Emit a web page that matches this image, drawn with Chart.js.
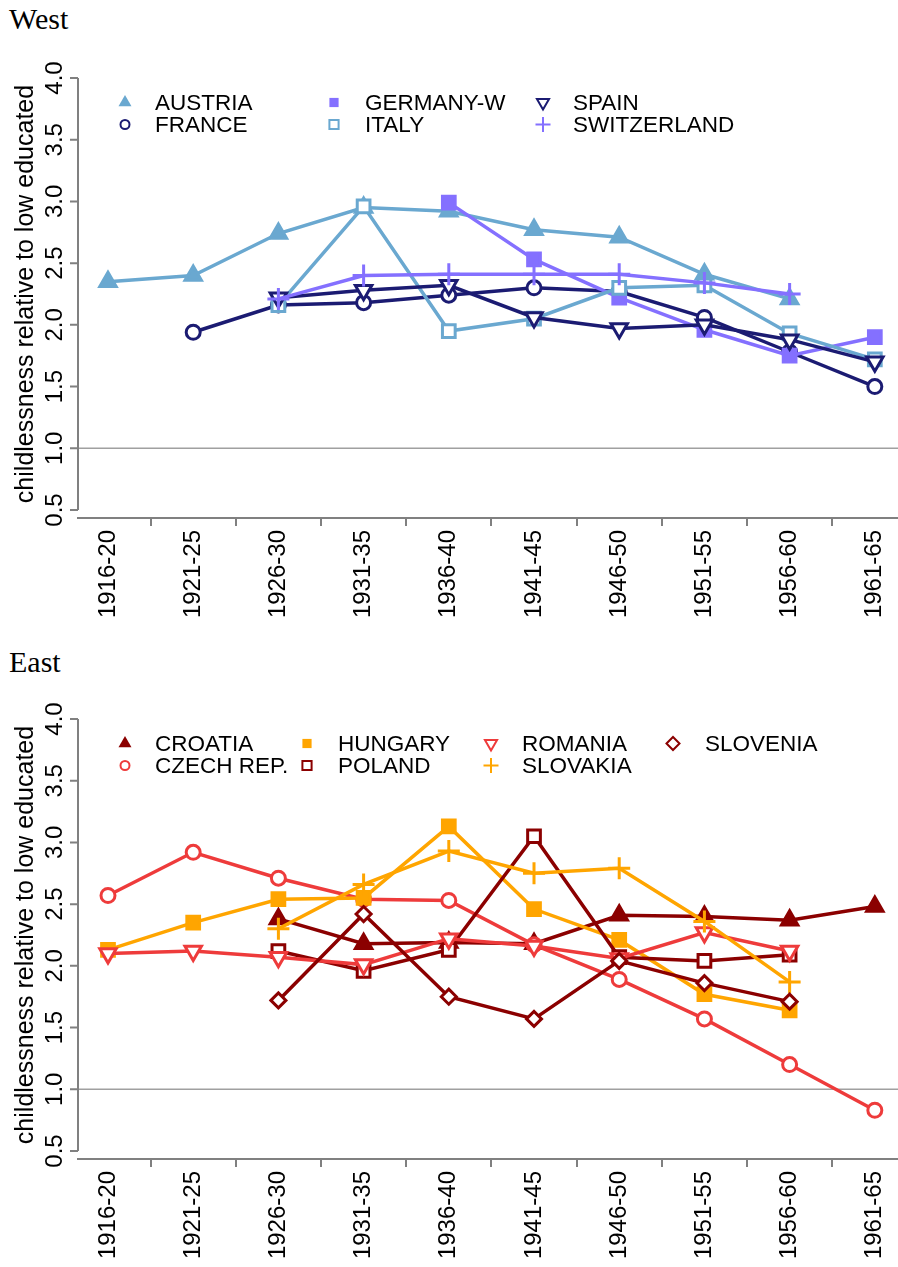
<!DOCTYPE html>
<html>
<head>
<meta charset="utf-8">
<script src="https://cdn.jsdelivr.net/npm/chart.js@4/dist/chart.umd.min.js"></script>
<style>
  body { margin: 0; background: #fff; }
  #page { position: relative; width: 898px; height: 1267px; overflow: hidden; }
  .ttl { position: absolute; font: 30px/30px "Liberation Serif", "Times New Roman", serif; color: #000; }
  canvas { position: absolute; left: 0; }
</style>
</head>
<body>
<div id="page">
  <div class="ttl" style="left:9px;top:4px">West</div>
  <canvas id="west" width="898" height="626" style="top:0"></canvas>
  <div class="ttl" style="left:9px;top:647px">East</div>
  <canvas id="east" width="898" height="626" style="top:641px"></canvas>
</div>
<script>
// birth cohorts on the x axis
var cohorts = ['1916-20', '1921-25', '1926-30', '1931-35', '1936-40', '1941-45', '1946-50', '1951-55', '1956-60', '1961-65'];
var yTicks = [0.5, 1.0, 1.5, 2.0, 2.5, 3.0, 3.5, 4.0];
var yTitle = 'childlessness relative to low educated';

// West
var austria     = [2.35, 2.40, 2.74, 2.95, 2.92, 2.77, 2.71, 2.41, 2.21, null];
var france      = [null, 1.94, 2.16, 2.18, 2.24, 2.30, 2.27, 2.06, 1.78, 1.50];
var germanyW    = [null, null, null, null, 2.99, 2.53, 2.22, 1.96, 1.75, 1.90];
var italy       = [null, null, 2.16, 2.96, 1.95, 2.05, 2.30, 2.32, 1.93, 1.72];
var spain       = [null, null, 2.22, 2.28, 2.32, 2.06, 1.97, 2.00, 1.88, 1.70];
var switzerland = [null, null, 2.21, 2.40, 2.41, 2.41, 2.41, 2.34, 2.25, null];

// East
var croatia  = [null, null, 2.38, 2.18, 2.19, 2.18, 2.41, 2.40, 2.37, 2.48];
var czech    = [2.57, 2.92, 2.71, 2.54, 2.53, 2.17, 1.89, 1.57, 1.20, 0.83];
var hungary  = [2.13, 2.35, 2.54, 2.55, 3.13, 2.46, 2.21, 1.77, 1.64, null];
var poland   = [null, null, 2.12, 1.96, 2.13, 3.05, 2.07, 2.04, 2.09, null];
var romania  = [2.10, 2.12, 2.07, 2.01, 2.22, 2.16, 2.06, 2.27, 2.12, null];
var slovakia = [null, null, 2.30, 2.66, 2.93, 2.75, 2.79, 2.36, 1.87, null];
var slovenia = [null, null, 1.72, 2.42, 1.75, 1.57, 2.04, 1.86, 1.71, null];

var SANS = '"Liberation Sans", Arial, sans-serif';
Chart.defaults.font.family = SANS;
Chart.defaults.color = '#000';

// marker looks: [pointStyle, rotation, radius, filled, legendRadius]
var markers = {
  triUp:   ['triangle', 0, 9.5, true, 7.5],
  triDown: ['triangle', 180, 9.5, false, 7],
  circle:  ['circle', 0, 7, false, 4.5],
  square:  ['rect', 0, 9, false, 6.5],
  squareF: ['rect', 0, 9, true, 6.5],
  plus:    ['cross', 0, 11, false, 7.5],
  diamond: ['rectRot', 0, 7.5, false, 6.5]
};

function series(label, vals, color, mk, n, i) {
  var m = markers[mk];
  return {
    label: label,
    data: vals.map(function(v, k) { return { x: k, y: v }; }),
    borderColor: color,
    backgroundColor: color,
    borderWidth: 3.5,
    tension: 0,
    pointStyle: m[0],
    pointRotation: m[1],
    pointRadius: m[2],
    pointHoverRadius: m[2],
    pointBorderWidth: 3,
    pointBorderColor: color,
    pointBackgroundColor: m[3] ? color : '#fff',
    legendRadius: m[4],
    filled: m[3],
    order: n - i
  };
}

var framePlugin = {
  id: 'frame',
  beforeDatasetsDraw: function(chart) {
    var ctx = chart.ctx, a = chart.chartArea, y = chart.scales.y;
    ctx.save();
    // reference line at 1
    var y1 = y.getPixelForValue(1);
    ctx.strokeStyle = '#a0a0a0';
    ctx.lineWidth = 1.5;
    ctx.beginPath(); ctx.moveTo(a.left, y1); ctx.lineTo(a.right, y1); ctx.stroke();
    // y axis line and ticks
    var top = y.getPixelForValue(yTicks[yTicks.length - 1]);
    var bot = y.getPixelForValue(yTicks[0]);
    ctx.strokeStyle = '#808080';
    ctx.lineWidth = 2;
    ctx.beginPath();
    ctx.moveTo(a.left, top); ctx.lineTo(a.left, bot);
    yTicks.forEach(function(v) {
      var p = y.getPixelForValue(v);
      ctx.moveTo(a.left - 8, p); ctx.lineTo(a.left, p);
    });
    ctx.stroke();
    // tick labels, parallel to the axis
    ctx.fillStyle = '#000';
    ctx.textAlign = 'center';
    ctx.textBaseline = 'alphabetic';
    ctx.font = '24px ' + SANS;
    yTicks.forEach(function(v) {
      var p = y.getPixelForValue(v);
      ctx.save(); ctx.translate(a.left - 16, p); ctx.rotate(-Math.PI / 2);
      ctx.fillText(v.toFixed(1), 0, 0);
      ctx.restore();
    });
    ctx.font = '25px ' + SANS;
    ctx.save(); ctx.translate(33, (top + bot) / 2); ctx.rotate(-Math.PI / 2);
    ctx.fillText(yTitle, 0, 0);
    ctx.restore();
    ctx.restore();
  },
  afterDatasetsDraw: function(chart, args, opts) {
    var ctx = chart.ctx;
    ctx.save();
    ctx.font = '22.5px ' + SANS;
    ctx.textAlign = 'left';
    ctx.textBaseline = 'alphabetic';
    chart.data.datasets.forEach(function(ds, i) {
      var col = opts.cols[Math.floor(i / 2)], row = i % 2;
      var cy = opts.rows[row];
      ctx.fillStyle = ds.filled ? ds.borderColor : 'rgba(0,0,0,0)';
      ctx.strokeStyle = ds.borderColor;
      ctx.lineWidth = 2;
      Chart.helpers.drawPoint(ctx, {
        pointStyle: ds.pointStyle, rotation: ds.pointRotation,
        radius: ds.legendRadius, borderWidth: ds.filled ? 0 : 2
      }, col[0], cy);
      ctx.fillStyle = '#000';
      ctx.fillText(ds.label, col[1], cy + 7.5);
    });
    ctx.restore();
  }
};

function makeChart(id, datasets, cols) {
  new Chart(document.getElementById(id), {
    type: 'line',
    data: { datasets: datasets },
    plugins: [framePlugin],
    options: {
      responsive: false,
      animation: false,
      events: [],
      layout: { autoPadding: false, padding: { left: 78, right: 0, top: 78, bottom: 0 } },
      plugins: {
        legend: { display: false },
        tooltip: { enabled: false },
        frame: { cols: cols, rows: [102.5, 124.5] }
      },
      scales: {
        x: {
          type: 'linear',
          min: -0.352,
          max: 9.272,
          afterBuildTicks: function(s) {
            var t = [];
            for (var k = 0; k < cohorts.length; k++) {
              t.push({ value: k });
              if (k < cohorts.length - 1) t.push({ value: k + 0.5 });
            }
            s.ticks = t;
          },
          afterFit: function(s) {
            s.height = 108;
            s.paddingLeft = 0;
            s.paddingRight = 0;
          },
          ticks: {
            autoSkip: false,
            minRotation: 90,
            maxRotation: 90,
            padding: 4,
            font: { size: 24 },
            color: '#000',
            callback: function(v) { return Number.isInteger(v) ? cohorts[v] : ''; }
          },
          grid: {
            drawOnChartArea: false,
            drawTicks: true,
            tickLength: 8,
            lineWidth: 2,
            tickColor: function(c) {
              return (c.tick && Number.isInteger(c.tick.value)) ? 'rgba(0,0,0,0)' : '#808080';
            }
          },
          border: { display: true, color: '#808080', width: 2 }
        },
        y: {
          display: false,
          min: 0.435,
          max: 4.0
        }
      }
    }
  });
}

var west = [
  ['AUSTRIA', austria, '#6AA8D0', 'triUp'],
  ['FRANCE', france, '#1B1B72', 'circle'],
  ['GERMANY-W', germanyW, '#8470FF', 'squareF'],
  ['ITALY', italy, '#6AA8D0', 'square'],
  ['SPAIN', spain, '#1B1B72', 'triDown'],
  ['SWITZERLAND', switzerland, '#8470FF', 'plus']
];
var east = [
  ['CROATIA', croatia, '#8B0000', 'triUp'],
  ['CZECH REP.', czech, '#EE3B3B', 'circle'],
  ['HUNGARY', hungary, '#FFA500', 'squareF'],
  ['POLAND', poland, '#8B0000', 'square'],
  ['ROMANIA', romania, '#EE3B3B', 'triDown'],
  ['SLOVAKIA', slovakia, '#FFA500', 'plus'],
  ['SLOVENIA', slovenia, '#8B0000', 'diamond']
];

function build(list) {
  return list.map(function(s, i) { return series(s[0], s[1], s[2], s[3], list.length, i); });
}

makeChart('west', build(west), [[125, 155], [334, 365], [543, 573]]);
makeChart('east', build(east), [[125, 155], [307, 338], [491, 522], [673, 705]]);
</script>
</body>
</html>
